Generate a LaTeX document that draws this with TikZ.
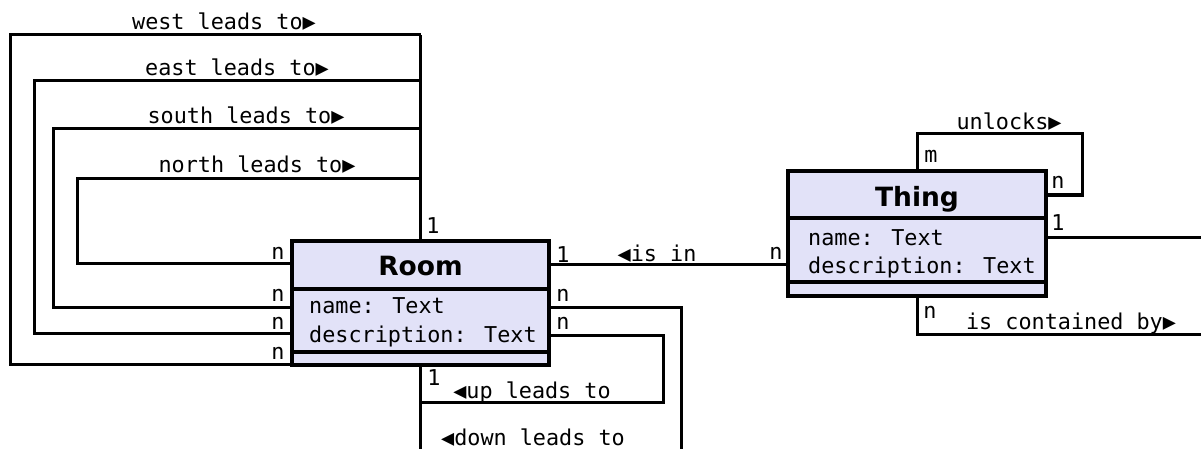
\documentclass[tikz,border=0pt]{standalone}
\usepackage{fontspec}
\newfontfamily\monof{DejaVu Sans Mono}
\newfontfamily\titlef{DejaVu Sans}
\definecolor{classfill}{RGB}{226,226,248}
\begin{document}
\begin{tikzpicture}[x=1pt,y=-1pt,
  classbox/.style={draw=black,line width=3.2pt,fill=classfill,inner sep=0pt,outer sep=0pt},
  sep/.style={line width=3.2pt},
  conn/.style={line width=3pt,line join=miter},
  lbl/.style={font=\monof\fontsize{21.8}{24}\selectfont,inner sep=0pt,anchor=base},
  attr/.style={font=\monof\fontsize{21.8}{24}\selectfont,inner sep=0pt,anchor=base west,align=left},
  ttl/.style={font=\titlef\bfseries\fontsize{26.5}{30}\selectfont,inner sep=0pt,anchor=base}]
\useasboundingbox (0,0) rectangle (1201,449);
\begin{scope}
\clip (0,0) rectangle (1201,449);

% ---------- connectors of Room ----------
\coordinate (rtop) at (420.5,241);
\coordinate (rbot) at (420.5,365);

% compass exits, all sharing the vertical above Room
\draw[conn] (rtop) -- (420.5,35);
\draw[conn] (420.5,35)  -| (10,364) -- (292,364);
\draw[conn] (420.5,81)  -| (34,333) -- (292,333);
\draw[conn] (420.5,129) -| (53,307) -- (292,307);
\draw[conn] (420.5,179) -| (77,263) -- (292,263);

% up / down exits below Room
\draw[conn] (549,335) -| (663,402) -| (rbot);
\draw[conn] (549,307) -| (681,460);
\draw[conn] (rbot) -- (420.5,460);

% Room -- Thing
\draw[conn] (549,264) -- (788,264);

% ---------- connectors of Thing ----------
\draw[conn] (917,171) |- (1082,134) |- (1046,195);
\draw[conn] (1046,237) -- (1210,237);
\draw[conn] (917,296) |- (1210,334);
\end{scope}

% ---------- Room ----------
\node[classbox,minimum width=257pt,minimum height=124pt] (room) at (420.5,303) {};
\draw[sep] (room.west |- 0,289) -- (room.east |- 0,289);
\draw[sep] (room.west |- 0,352) -- (room.east |- 0,352);
\node[ttl] (roomtitle) at (420.5,275) {Room};
\node[attr] (roomattr1) at (309,313) {name: Text};
\node[attr] (roomattr2) at (309,342) {description: Text};

% ---------- Thing ----------
\node[classbox,minimum width=258pt,minimum height=125pt] (thing) at (917,233.5) {};
\draw[sep] (thing.west |- 0,218) -- (thing.east |- 0,218);
\draw[sep] (thing.west |- 0,282) -- (thing.east |- 0,282);
\node[ttl] (thingtitle) at (917,206) {Thing};
\node[attr] (thingattr1) at (808,245) {name: Text};
\node[attr] (thingattr2) at (808,273) {description: Text};

% ---------- association labels ----------
\node[lbl] (lwest)  at (224,30)  {west leads to▶};
\node[lbl] (least)  at (237,76)  {east leads to▶};
\node[lbl] (lsouth) at (246,124) {south leads to▶};
\node[lbl] (lnorth) at (257,172) {north leads to▶};
\node[lbl] (lup)    at (532,398) {◀up leads to};
\node[lbl] (ldown)  at (533,445) {◀down leads to};
\node[lbl] (lisin)  at (657,261) {◀is in};
\node[lbl] (lunl)   at (1009,130) {unlocks▶};
\node[lbl] (lcont)  at (1071,329) {is contained by▶};

% ---------- multiplicities ----------
\node[lbl] (m1) at (433,233) {1};
\node[lbl] (m2) at (278,259) {n};
\node[lbl] (m3) at (278,301) {n};
\node[lbl] (m4) at (278,329) {n};
\node[lbl] (m5) at (278,359) {n};
\node[lbl] (m6) at (563,262) {1};
\node[lbl] (m7) at (563,301) {n};
\node[lbl] (m8) at (563,329) {n};
\node[lbl] (m9) at (434,385) {1};
\node[lbl] (m10) at (776,259) {n};
\node[lbl] (m11) at (931,163) {m};
\node[lbl] (m12) at (1058,189) {n};
\node[lbl] (m13) at (1058,230) {1};
\node[lbl] (m14) at (930,318) {n};
\end{tikzpicture}
\end{document}
